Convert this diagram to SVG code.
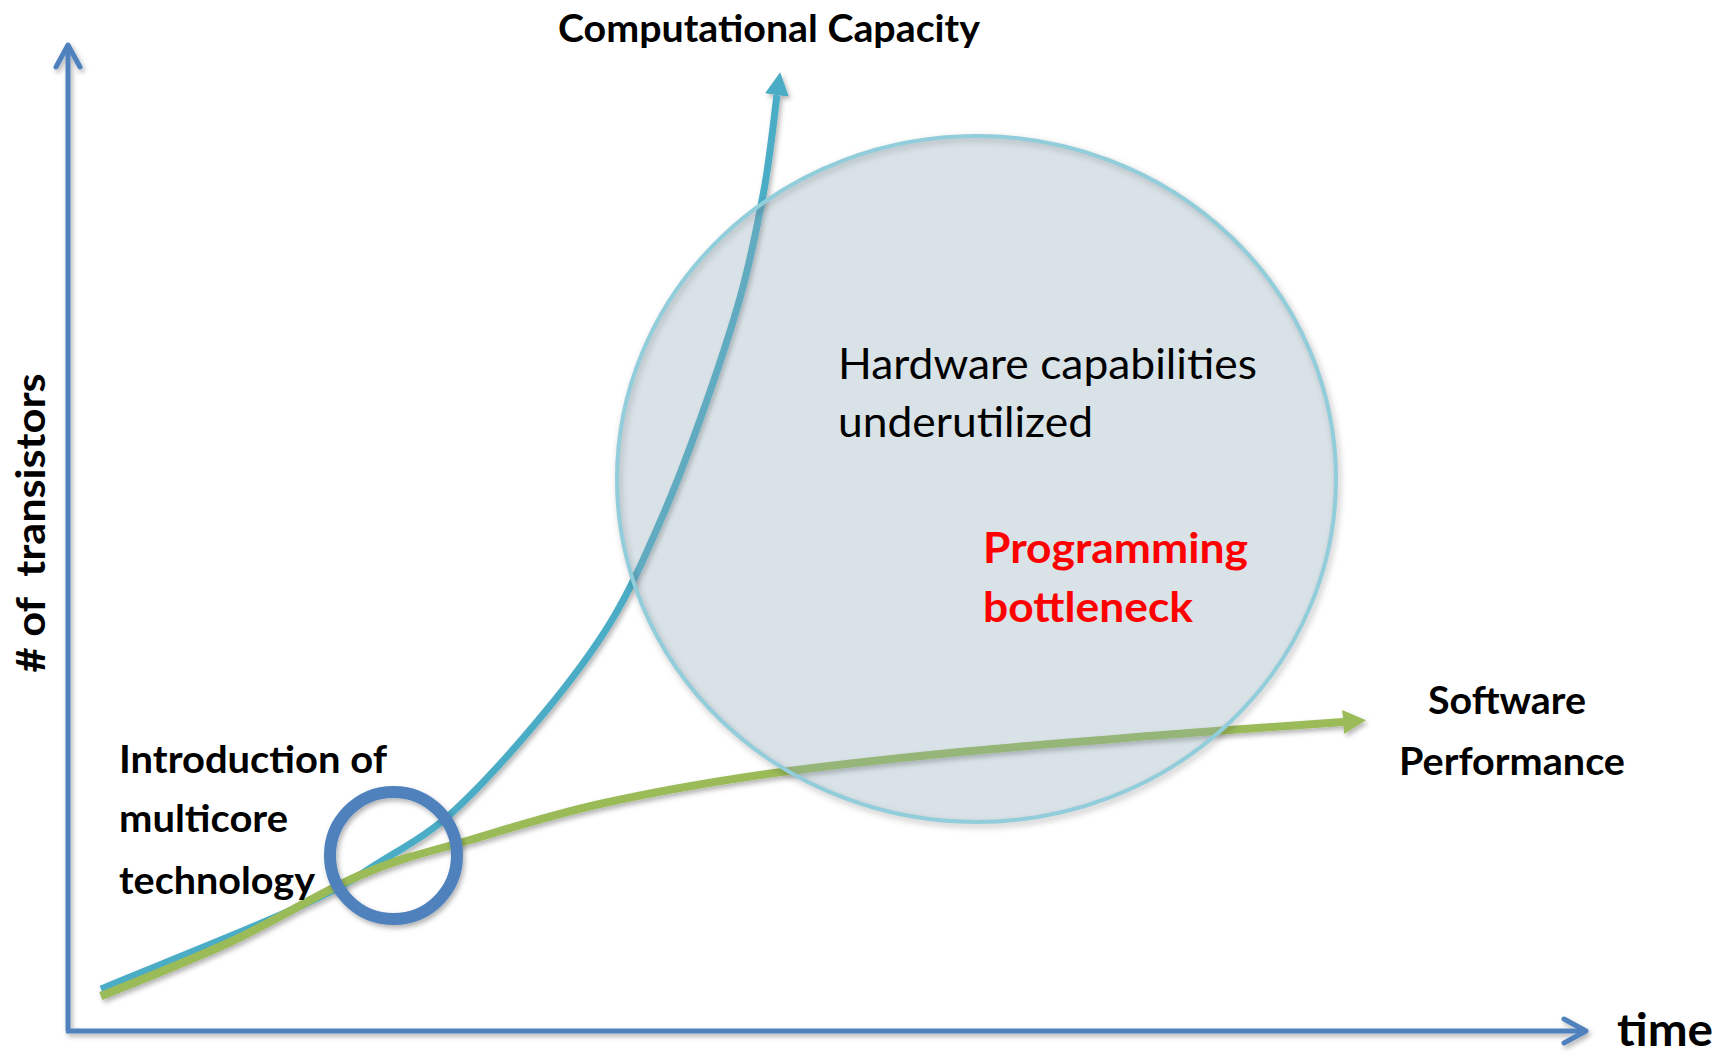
<svg xmlns="http://www.w3.org/2000/svg" width="1724" height="1054" viewBox="0 0 1724 1054">
<style>
  .lbl { font-family: Lato, "Liberation Sans", sans-serif; font-weight: 700; fill: #000; }
  .reg { font-family: Lato, "Liberation Sans", sans-serif; font-weight: 400; fill: #000; }
  .red { font-family: Lato, "Liberation Sans", sans-serif; font-weight: 700; fill: #ff0000; }
  .axis { fill: none; stroke: #4f81bd; stroke-width: 5; }
  .curve { fill: none; stroke-linecap: butt; }
</style>
<defs>
  <filter id="sh" x="-10%" y="-10%" width="130%" height="130%">
    <feDropShadow dx="2" dy="3" stdDeviation="2.5" flood-color="#000" flood-opacity="0.3"/>
  </filter>
  <filter id="blur" x="-10%" y="-10%" width="120%" height="120%">
    <feGaussianBlur stdDeviation="3"/>
  </filter>
  <marker id="chev" markerUnits="userSpaceOnUse" viewBox="-28 -18 32 36" refX="0" refY="0" markerWidth="32" markerHeight="36" orient="auto">
    <path d="M-22,-12 L0,0 L-22,12" fill="none" stroke="#4f81bd" stroke-width="5" stroke-linecap="round" stroke-linejoin="round"/>
  </marker>
  <marker id="headBlue" markerUnits="userSpaceOnUse" viewBox="0 -13 24 26" refX="0" refY="0" markerWidth="24" markerHeight="26" orient="auto">
    <path d="M0,-12 L23,0 L0,12 Z" fill="#4bacc6"/>
  </marker>
  <marker id="headGreen" markerUnits="userSpaceOnUse" viewBox="0 -13 24 26" refX="0" refY="0" markerWidth="24" markerHeight="26" orient="auto">
    <path d="M0,-12 L23,0 L0,12 Z" fill="#9bbb59"/>
  </marker>
</defs>
<rect width="1724" height="1054" fill="#ffffff"/>

<g id="axes" filter="url(#sh)">
  <path class="axis" d="M68,1031 V45" marker-end="url(#chev)"/>
  <path class="axis" d="M66,1031 H1586" marker-end="url(#chev)"/>
</g>

<g id="connectors" filter="url(#sh)">
  <path id="software-curve" class="curve" stroke="#9bbb59" stroke-width="8" marker-end="url(#headGreen)"
    d="M101,996 C122.5,987 186.3,962.3 230,942 C273.7,921.7 323,891 363,874 C403,857 430.5,851.7 470,840 C509.5,828.3 551.7,814.8 600,804 C648.3,793.2 701.7,783.5 760,775 C818.3,766.5 885,759.5 950,753 C1015,746.5 1084.5,741.2 1150,736 C1215.5,730.8 1310.8,724.3 1343,722"/>
  <path id="capacity-curve" class="curve" stroke="#4bacc6" stroke-width="7" marker-end="url(#headBlue)"
    d="M101,989 C124,979 195,951 240,932 C285,913 335,892 363,873 C391,854 428,836 455,810 C481.3,785.7 518.8,743.7 545,712 C571.2,680.3 592.8,651.7 612,620 C631.2,588.3 645.3,555.3 660,522 C674.7,488.7 686.7,457.3 700,420 C713.3,382.7 729.3,336.3 740,298 C750.7,259.7 757.8,223.8 764,190 C770.2,156.2 774.8,110.8 777,95"/>
  <path class="curve" stroke="#9bbb59" stroke-width="8"
    d="M101,996 C122.5,987 186.3,962.3 230,942 C273.7,921.7 323,891 363,874 C383,865.5 398,860 412,856"/>
</g>

<g id="underutilized-region">
  <ellipse cx="978.5" cy="482" rx="359.5" ry="343" fill="none" stroke="#000" stroke-opacity="0.22" stroke-width="5" filter="url(#blur)"/>
  <ellipse cx="976.5" cy="479" rx="359.5" ry="343" fill="#8cabb9" fill-opacity="0.34" stroke="#92cddc" stroke-width="4"/>
</g>

<g id="multicore-marker" filter="url(#sh)">
  <circle cx="393.5" cy="855.5" r="63.5" fill="none" stroke="#4f81bd" stroke-width="12"/>
</g>

<g id="label-capacity">
  <text class="lbl" x="558" y="42" font-size="38" textLength="422" lengthAdjust="spacingAndGlyphs">Computational Capacity</text>
</g>
<g id="label-hardware">
  <text class="reg" x="838" y="379" font-size="42" textLength="419" lengthAdjust="spacingAndGlyphs">Hardware capabilities</text>
  <text class="reg" x="838" y="437" font-size="42" textLength="255" lengthAdjust="spacingAndGlyphs">underutilized</text>
</g>
<g id="label-bottleneck">
  <text class="red" x="983" y="563" font-size="42" textLength="265" lengthAdjust="spacingAndGlyphs">Programming</text>
  <text class="red" x="983" y="622" font-size="42" textLength="210" lengthAdjust="spacingAndGlyphs">bottleneck</text>
</g>
<g id="label-software">
  <text class="lbl" x="1428" y="714" font-size="38" textLength="158" lengthAdjust="spacingAndGlyphs">Software</text>
  <text class="lbl" x="1399" y="775" font-size="38" textLength="226" lengthAdjust="spacingAndGlyphs">Performance</text>
</g>
<g id="label-multicore">
  <text class="lbl" x="119" y="773" font-size="38" textLength="268" lengthAdjust="spacingAndGlyphs">Introduction of</text>
  <text class="lbl" x="119" y="832" font-size="38" textLength="169" lengthAdjust="spacingAndGlyphs">multicore</text>
  <text class="lbl" x="119" y="894" font-size="38" textLength="196" lengthAdjust="spacingAndGlyphs">technology</text>
</g>
<g id="label-time">
  <text class="lbl" x="1617" y="1046" font-size="45" textLength="96" lengthAdjust="spacingAndGlyphs">time</text>
</g>
<g id="label-transistors">
  <text class="lbl" xml:space="preserve" transform="translate(45,523) rotate(-90)" x="0" y="0" text-anchor="middle" font-size="40" textLength="299" lengthAdjust="spacingAndGlyphs"># of  transistors</text>
</g>
</svg>
